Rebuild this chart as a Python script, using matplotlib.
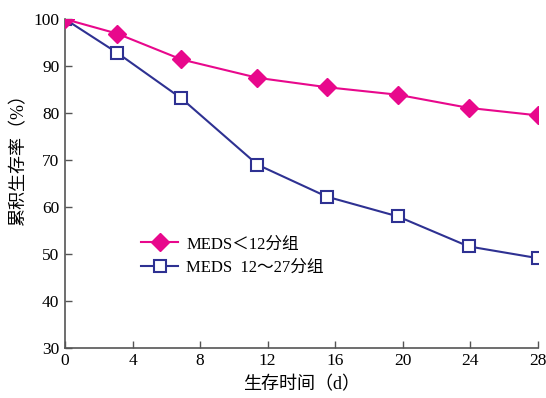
import matplotlib
matplotlib.use("Agg")
import matplotlib.pyplot as plt

plt.rcParams['font.family'] = ['Liberation Serif', 'Noto Sans CJK SC']

days_low = [0, 3.1, 6.9, 11.4, 15.5, 19.7, 23.9, 28]
surv_low = [100, 96.9, 91.4, 87.5, 85.5, 83.9, 81.1, 79.5]
days_high = [0, 3.1, 6.9, 11.4, 15.5, 19.7, 23.9, 28]
surv_high = [100, 92.8, 83.1, 69.0, 62.2, 58.0, 51.6, 49.1]
label_low = "MEDS＜12分组"
label_high = "MEDS  12～27分组"
xticks = [0, 4, 8, 12, 16, 20, 24, 28]
yticks = [30, 40, 50, 60, 70, 80, 90, 100]

pink = "#e8088c"
blue = "#2e3192"
axc = "#555555"

fig = plt.figure(figsize=(5.46, 3.98), dpi=100)
ax = fig.add_axes([0.119, 0.126, 0.866, 0.826])

ax.plot(days_high, surv_high, color=blue, lw=1.5, marker='s', ms=8,
        mfc='white', mec=blue, mew=1.5, label=label_high, zorder=3)
ax.plot(days_low, surv_low, color=pink, lw=1.5, marker='D', ms=9,
        mfc=pink, mec=pink, label=label_low, zorder=4)

ax.set_xlim(0, 28)
ax.set_ylim(30, 100)
ax.set_xticks(xticks)
ax.set_yticks(yticks)
ax.tick_params(direction='in', length=5, width=1, color=axc, labelsize=12.5, pad=4)
for s in ['top', 'right']:
    ax.spines[s].set_visible(False)
for s in ['left', 'bottom']:
    ax.spines[s].set_color(axc)
    ax.spines[s].set_linewidth(1.2)

ax.set_xlabel("生存时间（d）", fontsize=13, labelpad=5)
ax.set_ylabel("累积生存率（%）", fontsize=13)
ax.yaxis.set_label_coords(-0.08, 0.585)

handles, labels = ax.get_legend_handles_labels()
ax.legend(handles[::-1], labels[::-1], loc='upper left', bbox_to_anchor=(0.13, 0.385),
          frameon=False, fontsize=12, handlelength=2.2, handletextpad=0.5,
          labelspacing=0.45)

fig.savefig("out.png", dpi=100)
